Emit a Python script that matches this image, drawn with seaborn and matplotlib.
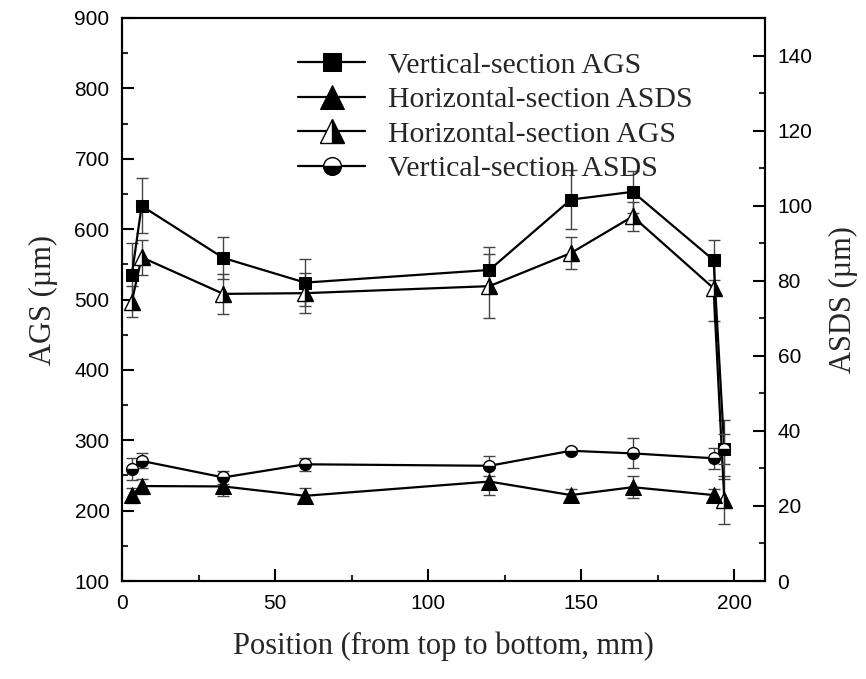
import matplotlib
matplotlib.use("Agg")
import matplotlib.pyplot as plt
import seaborn as sns
import numpy as np
from matplotlib.ticker import MultipleLocator

# ---- data ----
position = [3.2, 6.4, 33.1, 59.8, 120.0, 146.6, 166.8, 193.2, 196.7]
vs_ags = [535, 633, 559, 524, 542, 642, 653, 556, 287]
vs_ags_err = [45, 39, 30, 33, 32, 42, 30, 28, 42]
hs_ags = [497, 560, 508, 509, 519, 566, 618, 516, 215]
hs_ags_err = [22, 25, 28, 28, 45, 23, 20, 47, 34]
vs_asds = [29.8, 32.0, 27.6, 31.1, 30.7, 34.7, 34.0, 32.7, 35.2]
vs_asds_err = [3.0, 2.0, 1.7, 1.8, 2.7, 0.8, 4.0, 2.8, 4.0]
position_hs_asds = [3.2, 6.4, 33.1, 59.8, 120.0, 146.6, 166.8, 193.2]
hs_asds = [22.9, 25.3, 25.2, 22.7, 26.5, 22.9, 25.0, 22.9]
hs_asds_err = [2.0, 2.0, 2.5, 2.0, 3.5, 1.5, 3.0, 1.5]

labels = ["Vertical-section AGS", "Horizontal-section ASDS",
          "Horizontal-section AGS", "Vertical-section ASDS"]

sns.set_theme(style="ticks")
plt.rcParams["font.family"] = ["Liberation Sans", "DejaVu Sans"]

fig = plt.figure(figsize=(8.66, 6.79), dpi=100)
ax = fig.add_axes([0.1409, 0.1443, 0.8834 - 0.1409, 0.9735 - 0.1443])
ax2 = ax.twinx()

err_kw = dict(fmt="none", ecolor="#444444", elinewidth=1.0, capsize=4, capthick=1.0, zorder=2)

# AGS on left axis
ax.errorbar(position, vs_ags, yerr=vs_ags_err, **err_kw)
ax.errorbar(position, hs_ags, yerr=hs_ags_err, **err_kw)
sns.lineplot(x=position, y=vs_ags, ax=ax, color="black", lw=1.6, marker="s",
             markersize=8.5, markerfacecolor="black", markeredgecolor="black",
             legend=False, label=labels[0], zorder=3)
sns.lineplot(x=position, y=hs_ags, ax=ax, color="black", lw=1.6, marker="^",
             markersize=11.5, fillstyle="right", markerfacecolor="black",
             markerfacecoloralt="white", markeredgecolor="black", markeredgewidth=1.0,
             legend=False, label=labels[2], zorder=3)

# ASDS on right axis
ax2.errorbar(position_hs_asds, hs_asds, yerr=hs_asds_err, **err_kw)
ax2.errorbar(position, vs_asds, yerr=vs_asds_err, **err_kw)
sns.lineplot(x=position_hs_asds, y=hs_asds, ax=ax2, color="black", lw=1.6, marker="^",
             markersize=11.5, markerfacecolor="black", markeredgecolor="black",
             legend=False, label=labels[1], zorder=3)
sns.lineplot(x=position, y=vs_asds, ax=ax2, color="black", lw=1.6, marker="o",
             markersize=8.5, fillstyle="bottom", markerfacecolor="black",
             markerfacecoloralt="white", markeredgecolor="black", markeredgewidth=1.0,
             legend=False, label=labels[3], zorder=3)

ax.set_xlim(0, 210)
ax.set_ylim(100, 900)
ax2.set_ylim(0, 150)

ax.xaxis.set_major_locator(MultipleLocator(50))
ax.xaxis.set_minor_locator(MultipleLocator(25))
ax.yaxis.set_major_locator(MultipleLocator(100))
ax.yaxis.set_minor_locator(MultipleLocator(50))
ax2.yaxis.set_major_locator(MultipleLocator(20))
ax2.yaxis.set_minor_locator(MultipleLocator(10))
ax2.set_yticks([0, 20, 40, 60, 80, 100, 120, 140])

for a in (ax, ax2):
    for s in a.spines.values():
        s.set_visible(True)
        s.set_linewidth(1.5)
        s.set_color("black")

ax.tick_params(axis="both", which="major", direction="in", length=8.5, width=1.5,
               labelsize=15, pad=9, colors="black", top=False, right=False)
ax.tick_params(axis="both", which="minor", direction="in", length=4.5, width=1.5,
               top=False, right=False)
ax2.tick_params(axis="y", which="major", direction="in", length=8.5, width=1.5,
                labelsize=15, pad=9, colors="black", left=False)
ax2.tick_params(axis="y", which="minor", direction="in", length=4.5, width=1.5, left=False)

serif = ["Liberation Serif", "DejaVu Serif"]
ax.set_xlabel("Position (from top to bottom, mm)", family=serif, fontsize=22, labelpad=14)
ax.set_ylabel("AGS (\u00b5m)", family=serif, fontsize=22, labelpad=12)
ax2.set_ylabel("ASDS (\u00b5m)", family=serif, fontsize=22, labelpad=12)

h1, l1 = ax.get_legend_handles_labels()
h2, l2 = ax2.get_legend_handles_labels()
hmap = dict(zip(l1 + l2, h1 + h2))
leg = ax2.legend([hmap[l] for l in labels], labels, loc="upper left",
                 bbox_to_anchor=(298 / 866, 1 - 52 / 679), bbox_transform=fig.transFigure,
                 frameon=False, prop={"family": serif, "size": 21.5},
                 handlelength=2.25, handletextpad=0.75, labelspacing=0.25,
                 markerscale=1.5, borderpad=0, borderaxespad=0)

fig.savefig("out.png", dpi=100)
